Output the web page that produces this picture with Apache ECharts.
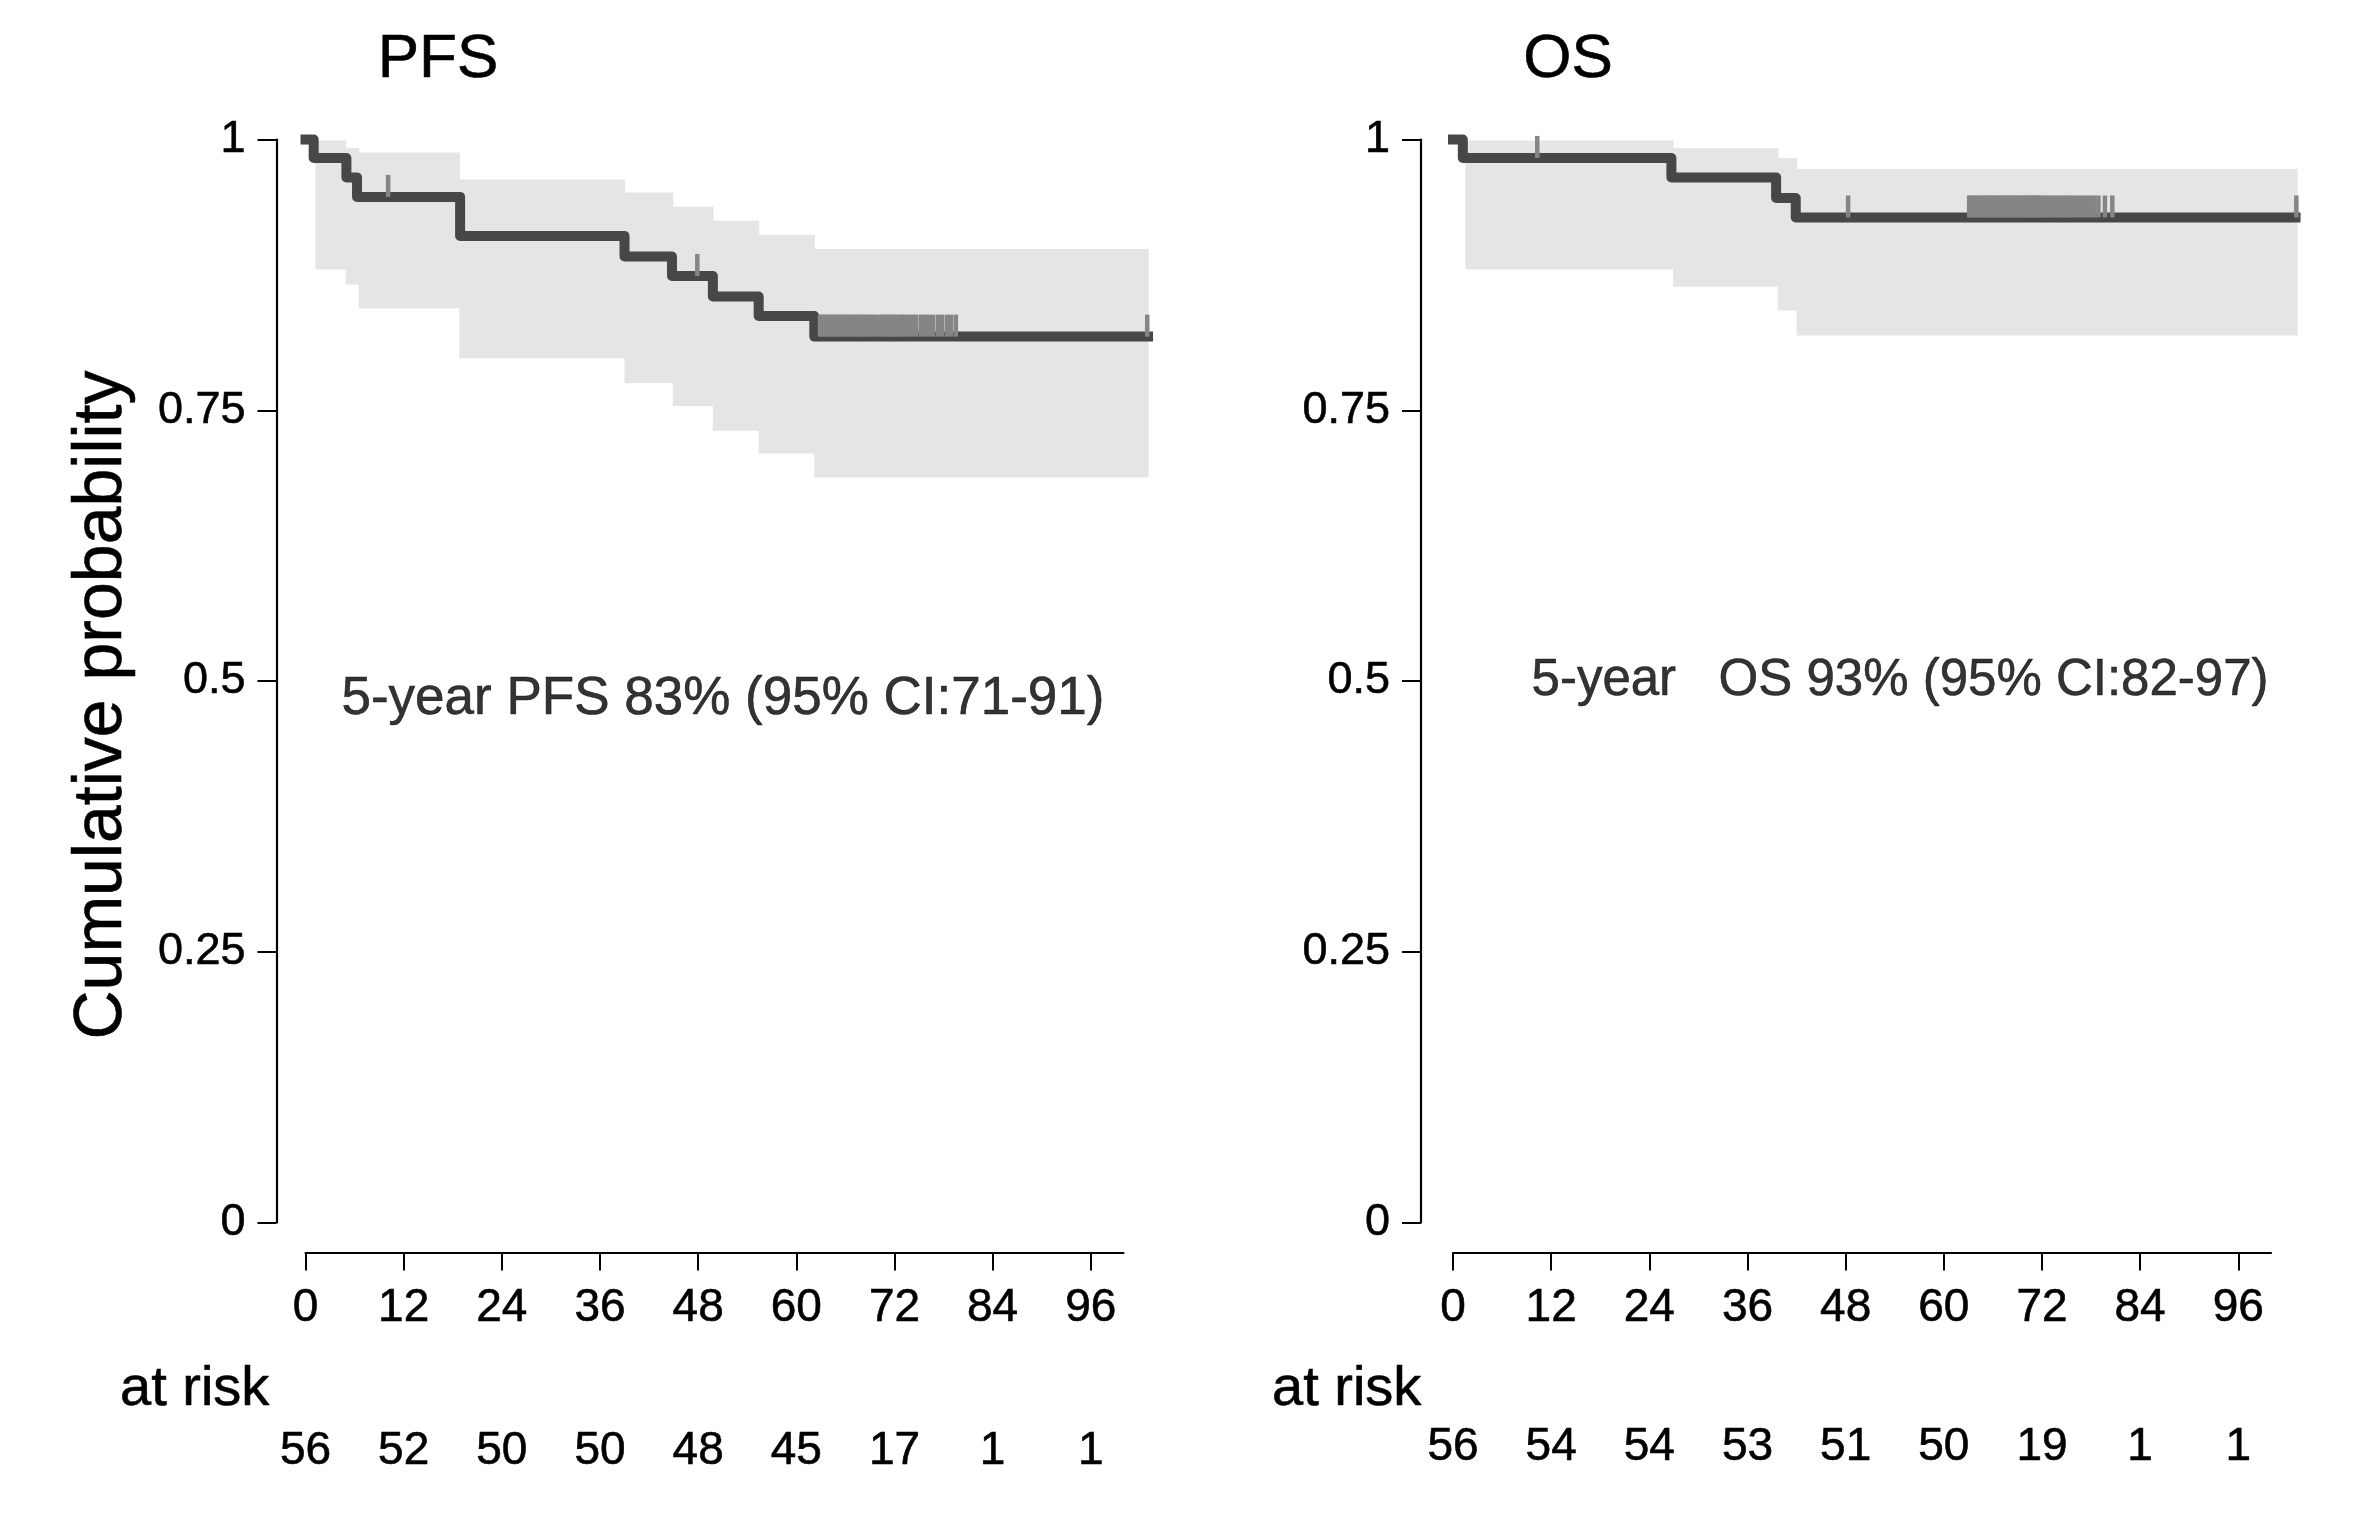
<!DOCTYPE html>
<html><head><meta charset="utf-8">
<script src="https://cdn.jsdelivr.net/npm/echarts@6/dist/echarts.min.js"></script>
<style>html,body{margin:0;padding:0;background:#fff;}#c{width:2364px;height:1523px;}</style>
</head><body><div id="c"></div>
<script>
// ---- data ----
const xTicks = [0, 12, 24, 36, 48, 60, 72, 84, 96];
const yTicks = [0, 0.25, 0.5, 0.75, 1];
const pfsRisk = [56, 52, 50, 50, 48, 45, 17, 1, 1];
const osRisk  = [56, 54, 54, 53, 51, 50, 19, 1, 1];

// PFS Kaplan-Meier step curve
const pfsTimes = [0, 1.0, 5.0, 6.3, 18.9, 39.0, 44.8, 49.8, 55.4, 62.2, 103.0];
const pfsSurv  = [1, 0.983, 0.965, 0.947, 0.911, 0.892, 0.874, 0.855, 0.837, 0.818, 0.818];
// PFS 95% CI band (step edges)
const pfsBandT  = [1.2, 4.9, 6.5, 18.8, 39.0, 44.9, 49.8, 55.4, 62.2, 103.0];
const pfsBandLo = [0.880, 0.866, 0.844, 0.798, 0.775, 0.754, 0.731, 0.710, 0.688];
const pfsBandHi = [0.999, 0.992, 0.988, 0.963, 0.951, 0.938, 0.925, 0.912, 0.899];
// PFS censoring times
const pfsCensor = [10.1, 47.9,
  62.9, 63.2, 63.5, 63.9, 64.2, 64.5, 64.9, 65.2, 65.5, 65.9, 66.2, 66.6, 66.9, 67.3,
  67.6, 68.0, 68.3, 68.7, 69.0, 69.4, 69.7, 70.2, 70.6, 70.9, 71.3, 71.6, 71.9,
  72.3, 72.7, 73.0, 73.3, 73.8, 74.2, 74.6, 75.2, 75.7, 76.2, 76.7, 77.3, 77.8, 78.4, 78.9, 79.5,
  102.9];

// OS Kaplan-Meier step curve
const osTimes = [0, 1.2, 26.7, 39.5, 41.9, 103.0];
const osSurv  = [1, 0.983, 0.965, 0.946, 0.928, 0.928];
const osBandT  = [1.5, 26.9, 39.7, 42.0, 103.2];
const osBandLo = [0.880, 0.864, 0.842, 0.819];
const osBandHi = [0.999, 0.992, 0.983, 0.973];
const osCensor = [10.3, 48.3,
  63.1, 63.4, 63.7, 64.0, 64.3, 64.7, 65.0, 65.3, 65.6, 65.9, 66.2, 66.5, 66.8, 67.1, 67.4,
  67.7, 68.0, 68.3, 68.6, 68.9, 69.2, 69.5, 69.8, 70.1, 70.4, 70.6, 70.9, 71.2, 71.4, 71.7, 71.9,
  72.3, 72.7, 73.1, 73.5, 73.9, 74.2, 74.7, 75.1, 75.4, 75.9, 76.4, 76.9, 77.4, 77.9, 78.4, 78.9, 79.7, 80.6,
  103.1];

const pfsNote = '5-year PFS 83% (95% CI:71-91)';
const osNote  = '5-year   OS 93% (95% CI:82-97)';
const pfsNotePos = [4.4, 0.483];
const osNotePos  = [9.6, 0.5];

// ---- helpers ----
const FONT = 'Liberation Sans, Arial, Helvetica, sans-serif';
const LINE = '#474747', BAND = '#e5e5e5', CENS = '#858585';
const TB = { textBorderColor: '#000', textBorderWidth: 0.6 };

function survAt(times, surv, t) {
  let s = surv[0];
  for (let i = 0; i < times.length; i++) if (times[i] <= t) s = surv[i];
  return s;
}
function bandData(T, lo, hi) {
  return lo.map((l, i) => [T[i], T[i + 1], l, hi[i]]);
}
function bandItem(params, api) {
  const a = api.coord([api.value(0), api.value(3)]);
  const b = api.coord([api.value(1), api.value(2)]);
  return { type: 'rect', shape: { x: a[0], y: a[1], width: b[0] - a[0] + 0.6, height: b[1] - a[1] },
           style: { fill: BAND } };
}
function censItem(params, api) {
  const p = api.coord([api.value(0), api.value(1)]);
  return { type: 'line', shape: { x1: p[0], y1: p[1], x2: p[0], y2: p[1] - 22 },
           style: { stroke: CENS, lineWidth: 4.5 } };
}
function kmItem(times, surv) {
  return function (params, api) {
    const pts = [];
    for (let i = 0; i < times.length; i++) {
      if (i > 0) pts.push(api.coord([times[i], surv[i - 1]]));
      pts.push(api.coord([times[i], surv[i]]));
    }
    return { type: 'polyline', shape: { points: pts },
             style: { stroke: LINE, lineWidth: 10, fill: null, lineJoin: 'round', lineCap: 'square' } };
  };
}

function xAxes(grid, risk, riskOffset) {
  return [{
    gridIndex: grid, type: 'value', min: 0, max: 100, interval: 12, offset: 30,
    axisLine: { show: true, onZero: false, lineStyle: { color: '#000', width: 2.2 } },
    axisTick: { show: true, length: 18, customValues: xTicks, lineStyle: { color: '#000', width: 2 } },
    axisLabel: Object.assign({ customValues: xTicks, fontSize: 46, margin: 33, color: '#000', fontFamily: FONT }, TB),
    splitLine: { show: false }
  }, {
    gridIndex: grid, type: 'value', min: 0, max: 100, interval: 12, offset: riskOffset, position: 'bottom',
    axisLine: { show: false, onZero: false }, axisTick: { show: false },
    axisLabel: Object.assign({ customValues: xTicks, fontSize: 46, margin: 28, color: '#000', fontFamily: FONT,
                 formatter: v => String(risk[xTicks.indexOf(v)]) }, TB),
    splitLine: { show: false }
  }];
}
function yAxis(grid, off) {
  return {
    gridIndex: grid, type: 'value', min: 0, max: 1, interval: 0.25, offset: off,
    axisLine: { show: true, onZero: false, lineStyle: { color: '#000', width: 2.2 } },
    axisTick: { show: true, length: 19, lineStyle: { color: '#000', width: 2 } },
    axisLabel: Object.assign({ fontSize: 45, margin: 31, color: '#000', fontFamily: FONT,
                 formatter: v => String(v) }, TB),
    splitLine: { show: false }
  };
}
function panelSeries(xi, yi, times, surv, bT, bLo, bHi, cens, note, notePos, noteSize) {
  return [
    { type: 'custom', xAxisIndex: xi, yAxisIndex: yi, clip: false, z: 1,
      renderItem: bandItem, data: bandData(bT, bLo, bHi), silent: true },
    { type: 'custom', xAxisIndex: xi, yAxisIndex: yi, clip: false, z: 3,
      renderItem: kmItem(times, surv), data: [[times[0], surv[0]]], silent: true },
    { type: 'custom', xAxisIndex: xi, yAxisIndex: yi, clip: false, z: 4,
      renderItem: censItem, data: cens.map(t => [t, survAt(times, surv, t)]), silent: true },
    { type: 'scatter', xAxisIndex: xi, yAxisIndex: yi, symbolSize: 0, z: 5, data: [notePos], silent: true,
      label: Object.assign({ show: true, position: 'right', distance: 0, formatter: note, fontSize: noteSize,
               color: '#000', fontFamily: FONT }, TB) }
  ];
}

const chart = echarts.init(document.getElementById('c'), null, { renderer: 'canvas' });
const gtext = (x, y, text, size, extra) => Object.assign({ type: 'text', x: x, y: y,
  style: { text: text, fontSize: size, fontFamily: FONT, fill: '#000', stroke: '#000', lineWidth: 0.6,
           align: 'left', verticalAlign: 'middle' } }, extra || {});
const titleL = gtext(438, 60, 'PFS', 62); titleL.style.align = 'center';
const titleR = gtext(1568, 60, 'OS', 62); titleR.style.align = 'center';
const yName = gtext(102, 705, 'Cumulative probability', 68, { rotation: Math.PI / 2 }); yName.style.align = 'center';

chart.setOption({
  animation: false,
  backgroundColor: '#fff',
  grid: [
    { left: 305.5, top: 139.5, width: 818, height: 1083 },
    { left: 1453, top: 139.5, width: 818, height: 1083 }
  ],
  xAxis: [...xAxes(0, pfsRisk, 178), ...xAxes(1, osRisk, 174)],
  yAxis: [yAxis(0, 29), yAxis(1, 32)],
  series: [
    ...panelSeries(0, 0, pfsTimes, pfsSurv, pfsBandT, pfsBandLo, pfsBandHi, pfsCensor, pfsNote, pfsNotePos, 53),
    ...panelSeries(2, 1, osTimes, osSurv, osBandT, osBandLo, osBandHi, osCensor, osNote, osNotePos, 51)
  ],
  graphic: [
    titleL, titleR,
    gtext(120, 1390, 'at risk', 56),
    gtext(1272, 1390, 'at risk', 56),
    yName
  ]
});
</script></body></html>
